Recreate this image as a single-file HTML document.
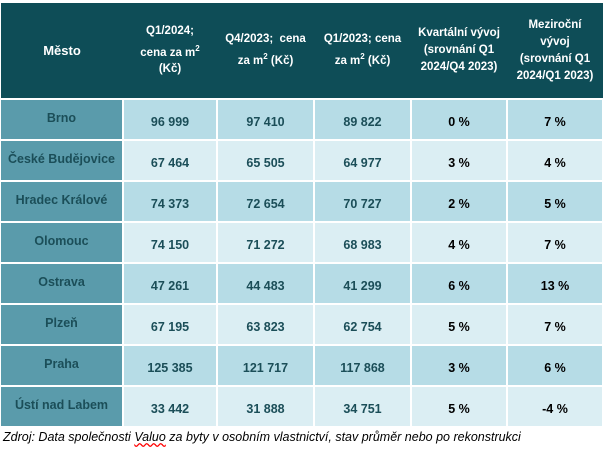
<html><head><style>
body{margin:0;background:#fff;width:603px;height:450px;overflow:hidden;font-family:"Liberation Sans",sans-serif}
table{position:absolute;left:1px;top:3px;border-collapse:collapse;table-layout:fixed;width:602px}
td{border:2px solid #fff;text-align:center;font-weight:bold;font-size:12.5px;color:#1b4e58;padding:0}
tr.h{height:96px}
tr.h td{background:#0e4d57;color:#fff;font-size:11.5px;line-height:17px;border-top:none;border-bottom:2px solid #fff;border-left:none;border-right:none}
tr.r{height:41px}
tr.r td{padding-top:4px}
tr.r td:first-child{background:#5a9bab;border-left:none;padding-top:0;padding-bottom:4px}
tr.a td{background:#b6dce6}
tr.b td{background:#dbeef3}
td.p{color:#000}
.cap{position:absolute;left:3px;top:430px;font-style:italic;font-size:12.5px;color:#000}
</style></head><body>
<table>
<col style="width:122px"><col style="width:94px"><col style="width:97px"><col style="width:97px"><col style="width:96px"><col style="width:96px">
<tr class="h"><td style="font-size:13px">Město</td><td>Q1/2024;<br>cena za m<sup style="font-size:8px">2</sup><br>(Kč)</td><td>Q4/2023;&nbsp; cena<br>za m<sup style="font-size:8px">2</sup> (Kč)</td><td>Q1/2023; cena<br>za m<sup style="font-size:8px">2</sup> (Kč)</td><td>Kvartální vývoj<br>(srovnání Q1<br>2024/Q4 2023)</td><td>Meziroční<br>vývoj<br>(srovnání Q1<br>2024/Q1 2023)</td></tr>
<tr class="r a"><td>Brno</td><td>96 999</td><td>97 410</td><td>89 822</td><td class="p">0 %</td><td class="p">7 %</td></tr>
<tr class="r b"><td>České Budějovice</td><td>67 464</td><td>65 505</td><td>64 977</td><td class="p">3 %</td><td class="p">4 %</td></tr>
<tr class="r a"><td>Hradec Králové</td><td>74 373</td><td>72 654</td><td>70 727</td><td class="p">2 %</td><td class="p">5 %</td></tr>
<tr class="r b"><td>Olomouc</td><td>74 150</td><td>71 272</td><td>68 983</td><td class="p">4 %</td><td class="p">7 %</td></tr>
<tr class="r a"><td>Ostrava</td><td>47 261</td><td>44 483</td><td>41 299</td><td class="p">6 %</td><td class="p">13 %</td></tr>
<tr class="r b"><td>Plzeň</td><td>67 195</td><td>63 823</td><td>62 754</td><td class="p">5 %</td><td class="p">7 %</td></tr>
<tr class="r a"><td>Praha</td><td>125 385</td><td>121 717</td><td>117 868</td><td class="p">3 %</td><td class="p">6 %</td></tr>
<tr class="r b"><td>Ústí nad Labem</td><td>33 442</td><td>31 888</td><td>34 751</td><td class="p">5 %</td><td class="p">-4 %</td></tr>
</table>
<div class="cap">Zdroj: Data společnosti <span style="text-decoration:underline wavy red">Valuo</span> za byty v osobním vlastnictví, stav průměr nebo po rekonstrukci</div>
</body></html>
